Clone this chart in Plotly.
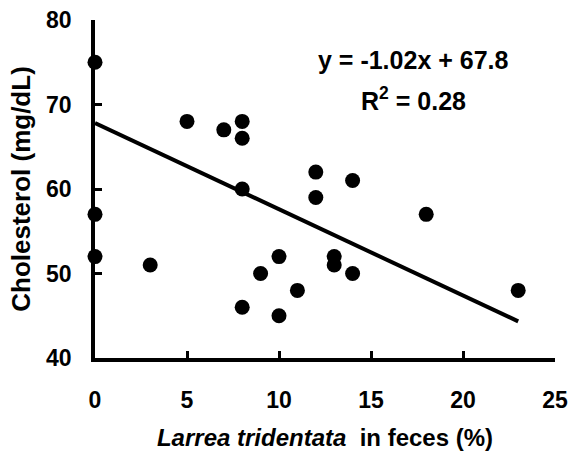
import plotly.graph_objects as go

# Data
larrea_pct = [0, 0, 0, 3, 5, 7, 8, 8, 8, 8, 9, 10, 10, 11, 12, 12, 13, 13, 14, 14, 18, 23]
cholesterol = [75, 57, 52, 51, 68, 67, 68, 66, 60, 46, 50, 52, 45, 48, 62, 59, 52, 51, 61, 50, 57, 48]
slope = -1.02
intercept = 67.8
r_squared = 0.28
x_ticks = [0, 5, 10, 15, 20, 25]
y_ticks = [40, 50, 60, 70, 80]

FONT = "Liberation Sans, Arial, sans-serif"

line_x = [0, max(larrea_pct)]
line_y = [slope * v + intercept for v in line_x]

fig = go.Figure()
fig.add_trace(go.Scatter(x=line_x, y=line_y, mode="lines",
                         line=dict(color="black", width=4), cliponaxis=False,
                         showlegend=False, hoverinfo="skip"))
fig.add_trace(go.Scatter(x=larrea_pct, y=cholesterol, mode="markers",
                         marker=dict(color="black", size=15), cliponaxis=False,
                         showlegend=False))

fig.add_annotation(x=17.3, y=75.3, xref="x", yref="y", showarrow=False,
                   text=f"<b>y = {slope:.2f}x + {intercept:.1f}</b>",
                   font=dict(family=FONT, size=25, color="black"))
fig.add_annotation(x=17.3, y=70.6, xref="x", yref="y", showarrow=False,
                   text=f"<b>R<sup>2</sup> = {r_squared:.2f}</b>",
                   font=dict(family=FONT, size=25, color="black"))

axis_common = dict(showline=True, linecolor="black", linewidth=3.5,
                   ticks="inside", ticklen=7, tickwidth=3, tickcolor="black",
                   showgrid=False, zeroline=False, automargin=False,
                   tickfont=dict(family=FONT, size=23, color="black"))

fig.update_xaxes(range=[0, 25], tickvals=x_ticks,
                 ticktext=[f"<b>{v}</b>" for v in x_ticks],
                 ticklabelstandoff=19,
                 title=dict(text="<b><i>Larrea tridentata</i>  in feces (%)</b>",
                            font=dict(family=FONT, size=24, color="black"),
                            standoff=18),
                 **axis_common)
fig.update_yaxes(range=[40, 80], tickvals=y_ticks,
                 ticktext=[f"<b>{v}</b>" for v in y_ticks],
                 ticklabelstandoff=15,
                 title=dict(text="<b>Cholesterol (mg/dL)</b>",
                            font=dict(family=FONT, size=26, color="black"),
                            standoff=9),
                 **axis_common)

fig.update_layout(width=575, height=464,
                  margin=dict(l=95, r=20, t=20, b=106),
                  plot_bgcolor="white", paper_bgcolor="white")

fig.write_html("out.html", config={"displayModeBar": False},
               post_script="document.body.style.margin='0';document.body.style.overflow='hidden';")
